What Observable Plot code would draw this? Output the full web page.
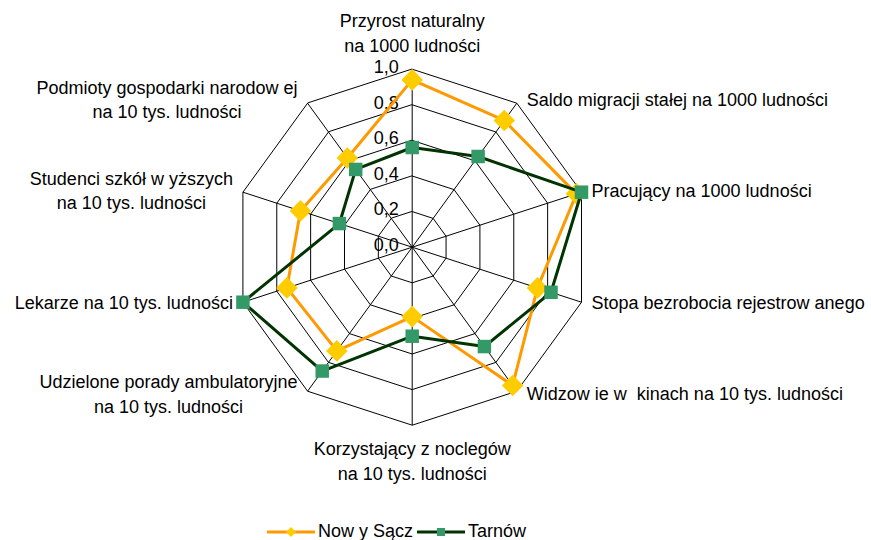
<!DOCTYPE html>
<html>
<head>
<meta charset="utf-8">
<script src="https://cdn.jsdelivr.net/npm/d3@7"></script>
<script src="https://cdn.jsdelivr.net/npm/@observablehq/plot@0.6"></script>
<style>
  html, body { margin: 0; padding: 0; background: #fff; overflow: hidden; }
  #wrap { position: relative; width: 871px; height: 540px; font-family: 'Liberation Sans', Arial, sans-serif; }
  #legend { position: absolute; left: 0; top: 521px; width: 793px; height: 21px; line-height: 21px; text-align: center; font-size: 18px; color: #000; white-space: nowrap; }
  #legend span.item { display: inline-flex; align-items: center; margin: 0 2px; vertical-align: top; height: 21px; }
  #legend svg { margin-right: 3px; }
</style>
</head>
<body>
<div id="wrap"><div id="chart"></div><div id="legend"></div></div>
<script>
// ---- data ----
const axisLabels = [
  "Przyrost naturalny\nna 1000 ludności",
  "Saldo migracji stałej na 1000 ludności",
  "Pracujący na 1000 ludności",
  "Stopa bezrobocia rejestrow anego",
  "Widzow ie w  kinach na 10 tys. ludności",
  "Korzystający z noclegów\nna 10 tys. ludności",
  "Udzielone porady ambulatoryjne\nna 10 tys. ludności",
  "Lekarze na 10 tys. ludności",
  "Studenci szkół w yższych\nna 10 tys. ludności",
  "Podmioty gospodarki narodow ej\nna 10 tys. ludności"
];
const seriesNames = ["Now y Sącz", "Tarnów"];
const nowySacz = [0.94, 0.88, 0.97, 0.74, 0.96, 0.39, 0.72, 0.74, 0.66, 0.62];
const tarnow   = [0.56, 0.63, 1.00, 0.82, 0.69, 0.50, 0.86, 1.00, 0.43, 0.54];
const tickValues = [0, 0.2, 0.4, 0.6, 0.8, 1.0];
const tickLabels = ["0,0", "0,2", "0,4", "0,6", "0,8", "1,0"];

// ---- layout / style ----
const W = 871, H = 518;
const CX = 411.7, CY = 246.7, R = 178;
const FONT = "'Liberation Sans', Arial, sans-serif";
const FS = 18;
const styles = [
  {line: "#FF9900", fill: "#FFCC00", symbol: "square", rotate: 45, r: 8.6, lr: 5},
  {line: "#003300", fill: "#339966", symbol: "square", rotate: 0, r: 7.6, lr: 5}
];

const n = axisLabels.length;
const ang = i => 2 * Math.PI * i / n;
const px = v => v / R; // pixels -> data units

// grid rings
const rings = [];
tickValues.filter(v => v > 0).forEach(v => {
  for (let i = 0; i < n; i++) rings.push({ring: v, x: v * Math.sin(ang(i)), y: v * Math.cos(ang(i))});
});
const spokes = axisLabels.map((_, i) => ({x: Math.sin(ang(i)), y: Math.cos(ang(i))}));

// series points
const seriesData = [nowySacz, tarnow].map((vals, s) =>
  vals.map((v, i) => ({series: seriesNames[s], x: v * Math.sin(ang(i)), y: v * Math.cos(ang(i))})));

// axis labels
const ctx = document.createElement("canvas").getContext("2d");
ctx.font = `${FS}px ${FONT}`;
const labels = axisLabels.map((t, i) => {
  const a = ang(i), s = Math.sin(a), c = Math.cos(a);
  const w = Math.max(...t.split("\n").map(l => ctx.measureText(l).width));
  let x, y;
  if (Math.abs(s) < 1e-6) {
    x = 0;
    y = c > 0 ? 1 + px(37.7) : -1 - px(34.3);
  } else {
    const sign = s > 0 ? 1 : -1;
    x = s + sign * px(10 + w / 2);
    y = c + px(4 * c + 2);
  }
  return {text: t, x, y};
});

const ticks = tickValues.map((v, i) => ({label: tickLabels[i], x: -px(13.4), y: v + px(2)}));

const marks = [
  Plot.line(rings, {x: "x", y: "y", z: "ring", curve: "linear-closed", stroke: "#000", strokeWidth: 1}),
  Plot.link(spokes, {x1: 0, y1: 0, x2: "x", y2: "y", stroke: "#000", strokeWidth: 1}),
  Plot.text(ticks, {x: "x", y: "y", text: "label", textAnchor: "end", fill: "#000", fontSize: FS})
];
seriesData.forEach((d, s) => {
  const st = styles[s];
  marks.push(Plot.line(d, {x: "x", y: "y", curve: "linear-closed", stroke: st.line, strokeWidth: 3}));
  marks.push(Plot.dot(d, {x: "x", y: "y", symbol: st.symbol, rotate: st.rotate, r: st.r, fill: st.fill, stroke: "none"}));
});
marks.push(Plot.text(labels, {x: "x", y: "y", text: "text", textAnchor: "middle", lineAnchor: "middle", lineHeight: 1.36, fill: "#000", fontSize: FS}));

const chart = Plot.plot({
  width: W, height: H, margin: 0,
  x: {domain: [-1, 1], range: [CX - R, CX + R], axis: null},
  y: {domain: [-1, 1], range: [CY + R, CY - R], axis: null},
  style: {fontFamily: FONT, fontSize: FS + "px", background: "#fff", overflow: "visible"},
  marks
});
document.getElementById("chart").appendChild(chart);

// legend
const legend = document.getElementById("legend");
seriesNames.forEach((name, s) => {
  const st = styles[s];
  const item = document.createElement("span");
  item.className = "item";
  const half = st.lr * (st.rotate ? 1 / Math.SQRT2 : 0.8);
  const marker = `<rect x="${24 - half}" y="${11 - half}" width="${2 * half}" height="${2 * half}" fill="${st.fill}" transform="rotate(${st.rotate} 24 11)"/>`;
  item.innerHTML = `<svg width="48" height="21"><line x1="0" y1="11" x2="48" y2="11" stroke="${st.line}" stroke-width="3"/>${marker}</svg><span>${name}</span>`;
  legend.appendChild(item);
});
</script>
</body>
</html>
